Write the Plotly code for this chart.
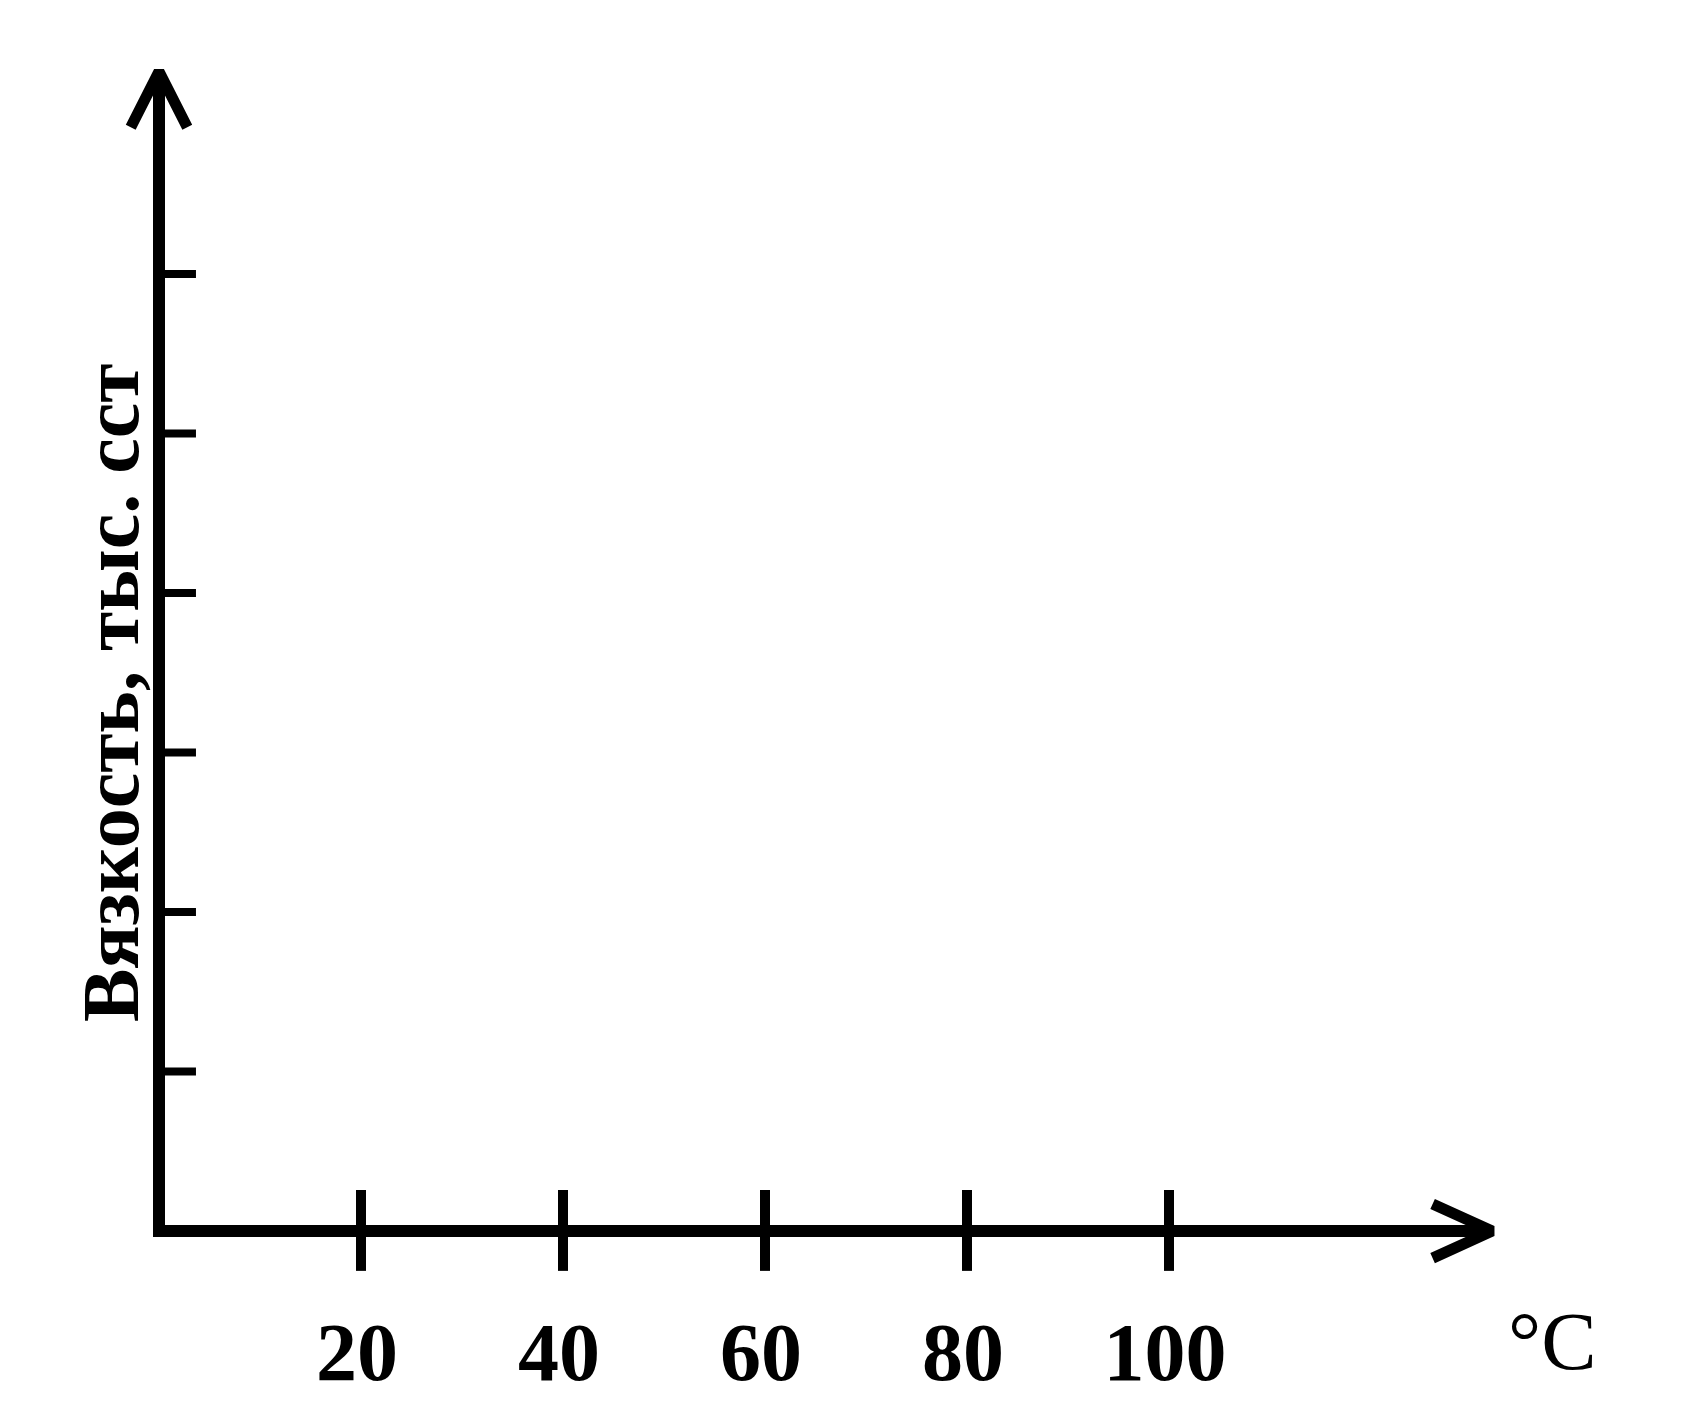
import plotly.graph_objects as go

# ---- chart content ----
x_ticks = [20, 40, 60, 80, 100]
x_tick_labels = ["20", "40", "60", "80", "100"]
y_ticks = [1, 2, 3, 4, 5, 6]
y_title = "Вязкость, тыс. сст"
x_unit = "°C"

# ---- geometry (data units) ----
X_MAX = 132.0      # tip of x arrow
Y_MAX = 7.27       # tip of y arrow
KX = 10.1          # px per x unit
KY = 159.5         # px per y unit
W, H = 1688, 1406  # page body has an 8px margin
ORIGIN_PX = (151, 1223)

x_range = [-ORIGIN_PX[0] / KX, (W - ORIGIN_PX[0]) / KX]
y_range = [-(H - ORIGIN_PX[1]) / KY, ORIGIN_PX[1] / KY]

FONT = "Liberation Serif, Times New Roman, serif"
BLACK = "#000000"

fig = go.Figure()

# axis lines
fig.add_trace(go.Scatter(x=[0, 0, X_MAX], y=[Y_MAX, 0, 0], mode="lines",
                         line=dict(color=BLACK, width=12), hoverinfo="skip"))
# arrow heads
ay_dx, ay_dy = 2.8, 0.35
ax_dx, ax_dy = 5.9, 0.17
fig.add_trace(go.Scatter(
    x=[-ay_dx, 0, ay_dx, None, X_MAX - ax_dx, X_MAX, X_MAX - ax_dx],
    y=[Y_MAX - ay_dy, Y_MAX, Y_MAX - ay_dy, None, ax_dy, 0, -ax_dy],
    mode="lines", line=dict(color=BLACK, width=11), hoverinfo="skip"))

# x ticks crossing the axis
xt_x, xt_y = [], []
for t in x_ticks:
    xt_x += [t, t, None]
    xt_y += [0.257, -0.25, None]
fig.add_trace(go.Scatter(x=xt_x, y=xt_y, mode="lines",
                         line=dict(color=BLACK, width=10), hoverinfo="skip"))

# y ticks on the right side of the axis
yt_x, yt_y = [], []
for v in y_ticks:
    yt_x += [0, 3.66, None]
    yt_y += [v, v, None]
fig.add_trace(go.Scatter(x=yt_x, y=yt_y, mode="lines",
                         line=dict(color=BLACK, width=8), hoverinfo="skip"))

fig.update_layout(
    width=W, height=H,
    margin=dict(l=0, r=0, t=0, b=0),
    paper_bgcolor="white", plot_bgcolor="white",
    showlegend=False, hovermode=False,
    xaxis=dict(range=x_range, tickvals=x_ticks, ticktext=x_tick_labels,
               tickfont=dict(family=FONT, size=82, color=BLACK, weight="bold"),
               ticks="", showline=False, showgrid=False, zeroline=False,
               anchor="free", position=(H - ORIGIN_PX[1]) / H,
               ticklabelstandoff=66, ticklabelshift=-4, fixedrange=True),
    yaxis=dict(range=y_range, showticklabels=False, ticks="", showline=False,
               showgrid=False, zeroline=False, fixedrange=True),
    annotations=[
        dict(x=-4.75, y=3.373, xref="x", yref="y", text=y_title, textangle=-90,
             showarrow=False, xanchor="center", yanchor="middle",
             font=dict(family=FONT, size=80, color=BLACK, weight="bold")),
        dict(x=138.0, y=-0.69, xref="x", yref="y", text=x_unit,
             showarrow=False, xanchor="center", yanchor="middle",
             font=dict(family=FONT, size=83, color=BLACK)),
    ],
)

fig.write_html("out.html", config={"displayModeBar": False})
